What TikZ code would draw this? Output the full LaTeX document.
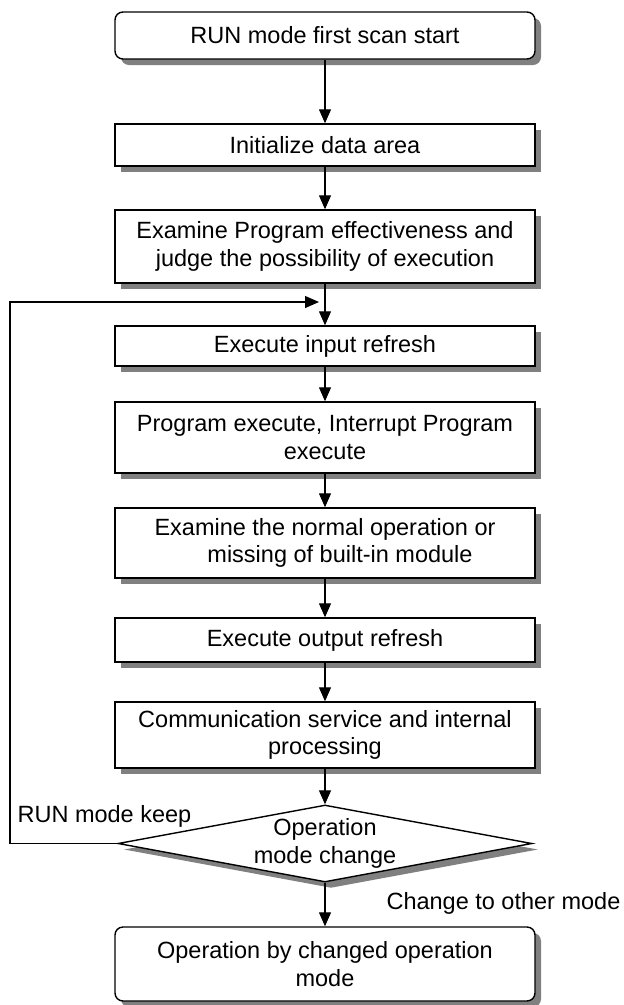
\documentclass[tikz,border=0pt]{standalone}
\usepackage{fontspec}
\setmainfont{Liberation Sans}
\usepackage{tikz}
\usetikzlibrary{arrows.meta}
\usetikzlibrary{shapes.geometric}
\usetikzlibrary{shadows}
\tikzset{basic/.style={draw,line width=1.4pt,fill=white,align=center,
                       minimum width=420pt,inner sep=0pt,
                       drop shadow={shadow xshift=6pt,shadow yshift=-6pt,
                                    fill=black!50,opacity=1}}}
\tikzset{process/.style={basic,rectangle}}
\tikzset{terminal/.style={basic,rectangle,rounded corners=8pt}}
\def\colx{325}

\begin{document}
\begin{tikzpicture}[x=1pt,y=-1pt,line width=1.2pt,
    font=\fontsize{23.5}{27.5}\selectfont]
    \tikzstyle{flow}=[-{Triangle[length=14pt,width=12pt]}]
    \tikzstyle{decision}=[basic,diamond,minimum width=414pt,minimum height=77pt]
    \tikzstyle{annot}=[inner sep=0pt]
    \useasboundingbox (0,0) rectangle (624,1005);

    % Draw the steps of one scan
    \node[terminal,minimum height=47pt] (start) at (\colx,35.5) {RUN mode first scan start};
    \node[process,minimum height=42pt] (init) at (\colx,145) {Initialize data area};
    \node[process,minimum height=73pt] (exam) at (\colx,246.5)
        {Examine Program effectiveness and\\judge the possibility of execution};
    \node[process,minimum height=40pt] (input) at (\colx,346) {Execute input refresh};
    \node[process,minimum height=71pt] (prog) at (\colx,437.5)
        {Program execute, Interrupt Program\\execute};
    \node[process,minimum height=70pt] (check) at (\colx,543)
        {Examine the normal operation or\\\hspace*{30pt}missing of built-in module};
    \node[process,minimum height=44pt] (output) at (\colx,640) {Execute output refresh};
    \node[process,minimum height=66pt] (comm) at (\colx,735)
        {Communication service and internal\\processing};
    \node[decision,label={[align=center]center:{Operation\\mode change}}] (dia) at (\colx,843.5) {};
    \node[terminal,minimum height=74pt] (final) at (\colx,964)
        {Operation by changed operation\\mode};

    % Connect the steps from top to bottom
    \foreach \source/\dest in {start/init,init/exam,exam/input,input/prog,prog/check,
                               check/output,output/comm,comm/dia,dia/final}
        \draw[flow] (\source) -- (\dest);

    % Loop back when the mode is kept
    \coordinate (keep) at (10,302);
    \coordinate (join) at (319,302);
    \draw[flow] (dia.west) -| (keep) -- (join);

    % Annotate the branches
    \node[annot,anchor=base west] (keeplbl) at (17,822) {RUN mode keep};
    \node[annot,anchor=base east] (changelbl) at (621,909) {Change to other mode};
\end{tikzpicture}
\end{document}
